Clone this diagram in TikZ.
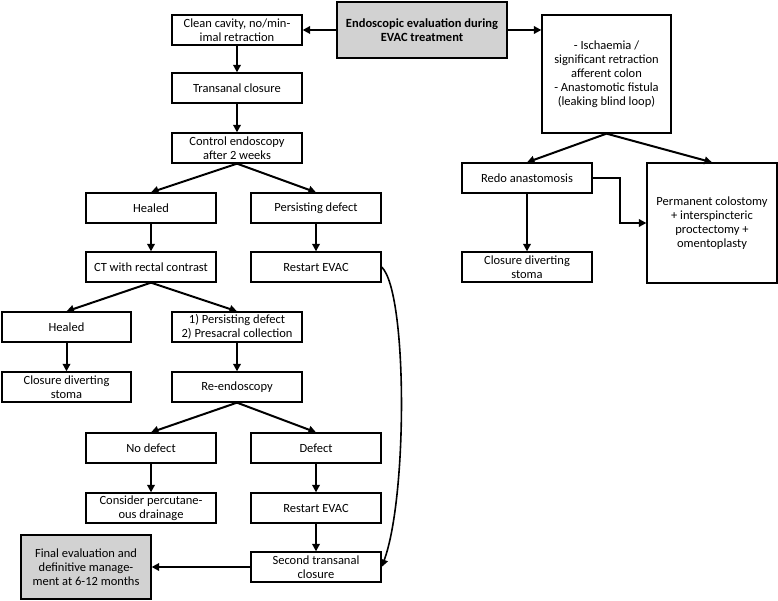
\documentclass[tikz,border=0pt]{standalone}
\usepackage{fontspec}
\setmainfont{Carlito}
\usepackage{tikz}
\usetikzlibrary{calc,arrows.meta}

\tikzset{
  box/.style={draw, line width=1.3pt, align=center, minimum width=130pt, minimum height=30pt,
    inner sep=1pt, font=\fontsize{12.5}{14}\selectfont},
  greybox/.style={box, fill=gray!35},
  arr/.style={line width=2pt, -{Triangle[length=7.5pt,width=7.5pt]}}
}

\begin{document}
\begin{tikzpicture}[x=1pt,y=-1pt]
        \useasboundingbox (0,0) rectangle (778,601);
        % start
        \node[greybox, minimum width=170pt, minimum height=56pt] (eval) at (422,30)
            {\textbf{Endoscopic evaluation during}\\\textbf{EVAC treatment}};
        % left branch
        \node[box] (clean) at (237,30) {Clean cavity, no/min-\\imal retraction};
        \node[box] (trans) at (237,88) {Transanal closure};
        \node[box] (control) at (237,148) {Control endoscopy\\after 2 weeks};
        \node[box] (healedA) at (151,208) {Healed};
        \node[box] (persistA) at (316,208) {Persisting defect};
        \node[box] (ct) at (151,267) {CT with rectal contrast};
        \node[box] (restartA) at (316,267) {Restart EVAC};
        \node[box, minimum width=129pt] (healedB) at (66.5,327) {Healed};
        \node[box] (persistB) at (237,327) {1) Persisting defect\\2) Presacral collection};
        \node[box, minimum width=129pt] (closeA) at (66.5,387) {Closure diverting\\stoma};
        \node[box] (reendo) at (237,387) {Re-endoscopy};
        \node[box] (nodef) at (151,448) {No defect};
        \node[box] (defect) at (316,448) {Defect};
        \node[box] (percut) at (151,508) {Consider percutane-\\ous drainage};
        \node[box] (restartB) at (316,508) {Restart EVAC};
        \node[box] (second) at (316,567) {Second transanal\\closure};
        \node[greybox, minimum height=64pt] (final) at (86,567)
            {Final evaluation and\\definitive manage-\\ment at 6-12 months};
        % right branch
        \node[box, minimum width=129pt, minimum height=118pt] (isch) at (606.5,74)
            {- Ischaemia /\\significant retraction\\afferent colon\\- Anastomotic fistula\\(leaking blind loop)};
        \node[box] (redo) at (527,178) {Redo anastomosis};
        \node[box] (closeB) at (527,267) {Closure diverting\\stoma};
        \node[box, minimum height=120pt] (perm) at (712,223)
            {Permanent colostomy\\+ interspincteric\\proctectomy +\\omentoplasty};
        % connectors
        \draw[arr] (eval.west) -- (clean.east);
        \draw[arr] (eval.east) -- (isch.west |- eval.east);
        \draw[arr] (clean) -- (trans);
        \draw[arr] (trans) -- (control);
        \draw[arr] (control.south) -- (healedA.north);
        \draw[arr] (control.south) -- (persistA.north);
        \draw[arr] (healedA) -- (ct);
        \draw[arr] (persistA) -- (restartA);
        \draw[arr] (ct.south) -- (healedB.north);
        \draw[arr] (ct.south) -- (persistB.north);
        \draw[arr] (healedB) -- (closeA);
        \draw[arr] (persistB) -- (reendo);
        \draw[arr] (reendo.south) -- (nodef.north);
        \draw[arr] (reendo.south) -- (defect.north);
        \draw[arr] (nodef) -- (percut);
        \draw[arr] (defect) -- (restartB);
        \draw[arr] (restartB) -- (second);
        \draw[arr] (second.west) -- (final.east |- second.west);
        \draw[line width=1.6pt, -{Triangle[length=7.5pt,width=7.5pt]}]
            (restartA.east) .. controls ($(restartA.east)+(26,25)$) and ($(second.east)+(26,-70)$) .. (second.east);
        \draw[arr] (isch.south) -- (redo.north);
        \draw[arr] (isch.south) -- (perm.north);
        \draw[arr] (redo) -- (closeB);
        \coordinate (bend) at ($(redo.east)!0.5!(perm.west |- redo.east)$);
        \draw[arr] (redo.east) -- (bend) |- (perm.west);
    \end{tikzpicture}
\end{document}
